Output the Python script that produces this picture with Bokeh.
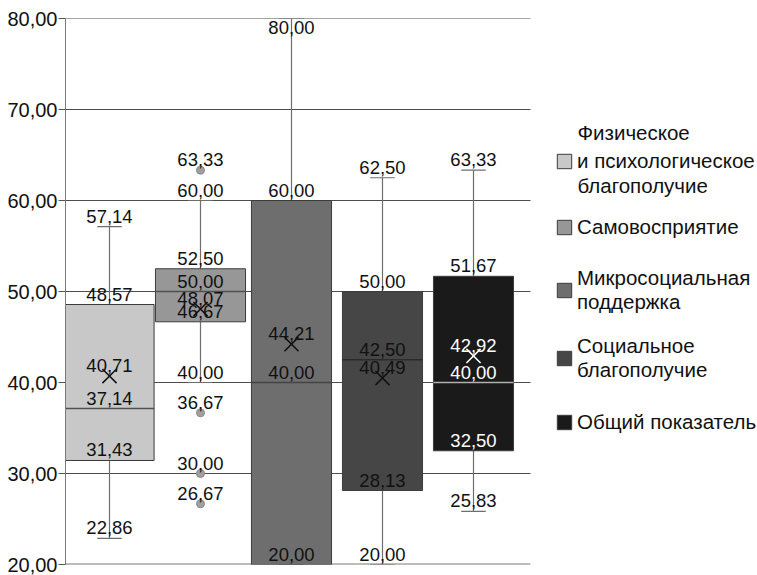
from bokeh.plotting import figure
from bokeh.models import (ColumnDataSource, Range1d, FixedTicker, CustomJSTickFormatter,
                          Legend, LegendItem, Label)
from bokeh.core.properties import value
from bokeh.embed import file_html
from bokeh.resources import INLINE
import numpy as np

# Scale groups (legend labels)
categories = [
    "Физическое\nи психологическое\nблагополучие",
    "Самовосприятие",
    "Микросоциальная\nподдержка",
    "Социальное\nблагополучие",
    "Общий показатель",
]

# Box statistics per group
whisker_low = [22.86, 40.00, 20.00, 20.00, 25.83]
q1 = [31.43, 46.67, 20.00, 28.13, 32.50]
median = [37.14, 50.00, 40.00, 42.50, 40.00]
q3 = [48.57, 52.50, 60.00, 50.00, 51.67]
whisker_high = [57.14, 60.00, 80.00, 62.50, 63.33]
mean = [40.71, 48.07, 44.21, 40.49, 42.92]

# Outliers: (group index, value)
outlier_group = [1, 1, 1, 1]
outlier_value = [63.33, 36.67, 30.00, 26.67]

y_ticks = [20, 30, 40, 50, 60, 70, 80]

# Styling
FONT = "Liberation Sans"
fills = ["#c8c8c8", "#979797", "#6e6e6e", "#464646", "#1a1a1a"]
median_colors = ["#505050", "#505050", "#444444", "#2a2a2a", "#b0b0b0"]
mean_colors = ["#111111", "#111111", "#111111", "#111111", "#ffffff"]
inner_text = ["#111111", "#111111", "#111111", "#111111", "#ffffff"]
box_widths = [0.98, 0.99, 0.88, 0.88, 0.88]
cap_w = 0.27
X_START, GRID_END = 0.5165, 5.6264
PX_PER_UNIT = 91.0
FRAME_W = 692

n = len(categories)
xs = np.arange(1, n + 1, dtype=float)
bw = np.array(box_widths)
y_min, y_max = y_ticks[0], y_ticks[-1]


def fmt(v):
    return f"{v:.2f}".replace(".", ",")


p = figure(width=757, height=575,
           x_range=Range1d(X_START, X_START + FRAME_W / PX_PER_UNIT),
           y_range=Range1d(y_min, y_max),
           output_backend="svg", toolbar_location=None,
           min_border_left=65, min_border_right=0,
           min_border_top=18, min_border_bottom=11)
p.outline_line_color = None
p.background_fill_color = "white"

# axes
p.yaxis.ticker = FixedTicker(ticks=y_ticks)
p.yaxis.formatter = CustomJSTickFormatter(code="return tick.toFixed(2).replace('.', ',')")
p.yaxis.major_label_text_font = FONT
p.yaxis.major_label_text_font_size = "20px"
p.yaxis.major_label_text_color = "#111111"
p.yaxis.major_label_standoff = 1
p.yaxis.major_tick_out = 7
p.yaxis.major_tick_in = 0
p.yaxis.minor_tick_line_color = None
p.yaxis.major_tick_line_color = "#555555"
p.yaxis.axis_line_color = "#7a7a7a"
p.xaxis.visible = False
p.xgrid.visible = False
p.ygrid.visible = False

# horizontal grid lines, ending at the right of the last box
grid_y = y_ticks[1:]
p.segment(x0=[X_START] * len(grid_y), x1=[GRID_END] * len(grid_y), y0=grid_y, y1=grid_y,
          line_color="#4d4d4d", line_width=1, level="underlay")
# baseline
p.segment(x0=[X_START], x1=[GRID_END], y0=[y_min], y1=[y_min],
          line_color="#7a7a7a", line_width=2, level="underlay")

# whiskers (drawn under the boxes)
wh = ColumnDataSource(dict(
    x=np.concatenate([xs, xs]),
    y0=np.concatenate([q3, whisker_low]),
    y1=np.concatenate([whisker_high, q1]),
))
p.segment(x0="x", y0="y0", x1="x", y1="y1", source=wh, line_color="#6e6e6e", line_width=1.2)

caps = ColumnDataSource(dict(
    x0=np.concatenate([xs, xs]) - cap_w / 2,
    x1=np.concatenate([xs, xs]) + cap_w / 2,
    y=np.concatenate([whisker_high, whisker_low]),
))
p.segment(x0="x0", y0="y", x1="x1", y1="y", source=caps, line_color="#6e6e6e", line_width=1.2)

# boxes
boxes = ColumnDataSource(dict(
    left=xs - bw / 2, right=xs + bw / 2, bottom=q1, top=q3, fill=fills,
))
box_r = p.quad(left="left", right="right", bottom="bottom", top="top", source=boxes,
               fill_color="fill", line_color="#3c3c3c", line_width=1)

# medians
med = ColumnDataSource(dict(x0=xs - bw / 2, x1=xs + bw / 2, y=median, c=median_colors))
p.segment(x0="x0", y0="y", x1="x1", y1="y", source=med, line_color="c", line_width=1.5)

# means
mn = ColumnDataSource(dict(x=xs, y=mean, c=mean_colors))
p.scatter(x="x", y="y", source=mn, marker="x", size=20, line_color="c", line_width=1.5)

# outliers
out = ColumnDataSource(dict(x=[xs[g] for g in outlier_group], y=outlier_value))
p.scatter(x="x", y="y", source=out, marker="circle", size=8,
          fill_color="#a0a0a0", line_color="#888888", line_width=1)

# value labels: above each point, below it when the point sits at the top of the range
lx, ly, lt, lc, lb, lo = [], [], [], [], [], []


def add_label(x, v, c):
    lx.append(x); ly.append(v); lt.append(fmt(v)); lc.append(c)
    if v >= y_max:
        lb.append("top"); lo.append(2)
    else:
        lb.append("bottom"); lo.append(-4)


for i in range(n):
    entries = [(whisker_high[i], "#111111"), (q3[i], "#111111"),
               (mean[i], inner_text[i]), (median[i], inner_text[i]),
               (q1[i], inner_text[i])]
    if whisker_low[i] != q1[i]:
        entries.append((whisker_low[i], "#111111"))
    for v, c in entries:
        add_label(xs[i], v, c)
for g, v in zip(outlier_group, outlier_value):
    add_label(xs[g], v, "#111111")

labels = ColumnDataSource(dict(x=lx, y=ly, t=lt, c=lc, b=lb, o=lo))
p.text(x="x", y="y", text="t", source=labels, text_color="c",
       text_font=value(FONT), text_font_size="18.5px",
       text_align="center", text_baseline="b", y_offset="o")

# legend: one block per group, stacked on the right (frame pixel offsets)
LEG_X = 490
LEG_FONT = "20.5px"
legend_bottoms = [391, 325, 250, 182, 130]
first_lines = categories[0].split("\n")
legend_text = [first_lines[1]] + categories[1:]
for i in range(n):
    lg = Legend(items=[LegendItem(label=legend_text[i], renderers=[box_r], index=i)],
                location=(LEG_X, legend_bottoms[i]), orientation="vertical",
                border_line_color=None, background_fill_alpha=0,
                padding=0, margin=0, spacing=0,
                glyph_width=18, glyph_height=18, label_standoff=4,
                label_text_font=FONT, label_text_font_size=LEG_FONT,
                label_text_color="#111111")
    p.add_layout(lg, "center")

# the first group's name is spread over three widely spaced lines
for txt, yy in [(first_lines[0], 432), (first_lines[2], 379)]:
    p.add_layout(Label(x=LEG_X + 22, y=yy, x_units="screen", y_units="screen",
                       text=txt, text_font=FONT, text_font_size=LEG_FONT,
                       text_color="#111111", text_baseline="middle", text_align="left"))

open("out.html", "w").write(file_html(p, INLINE))
